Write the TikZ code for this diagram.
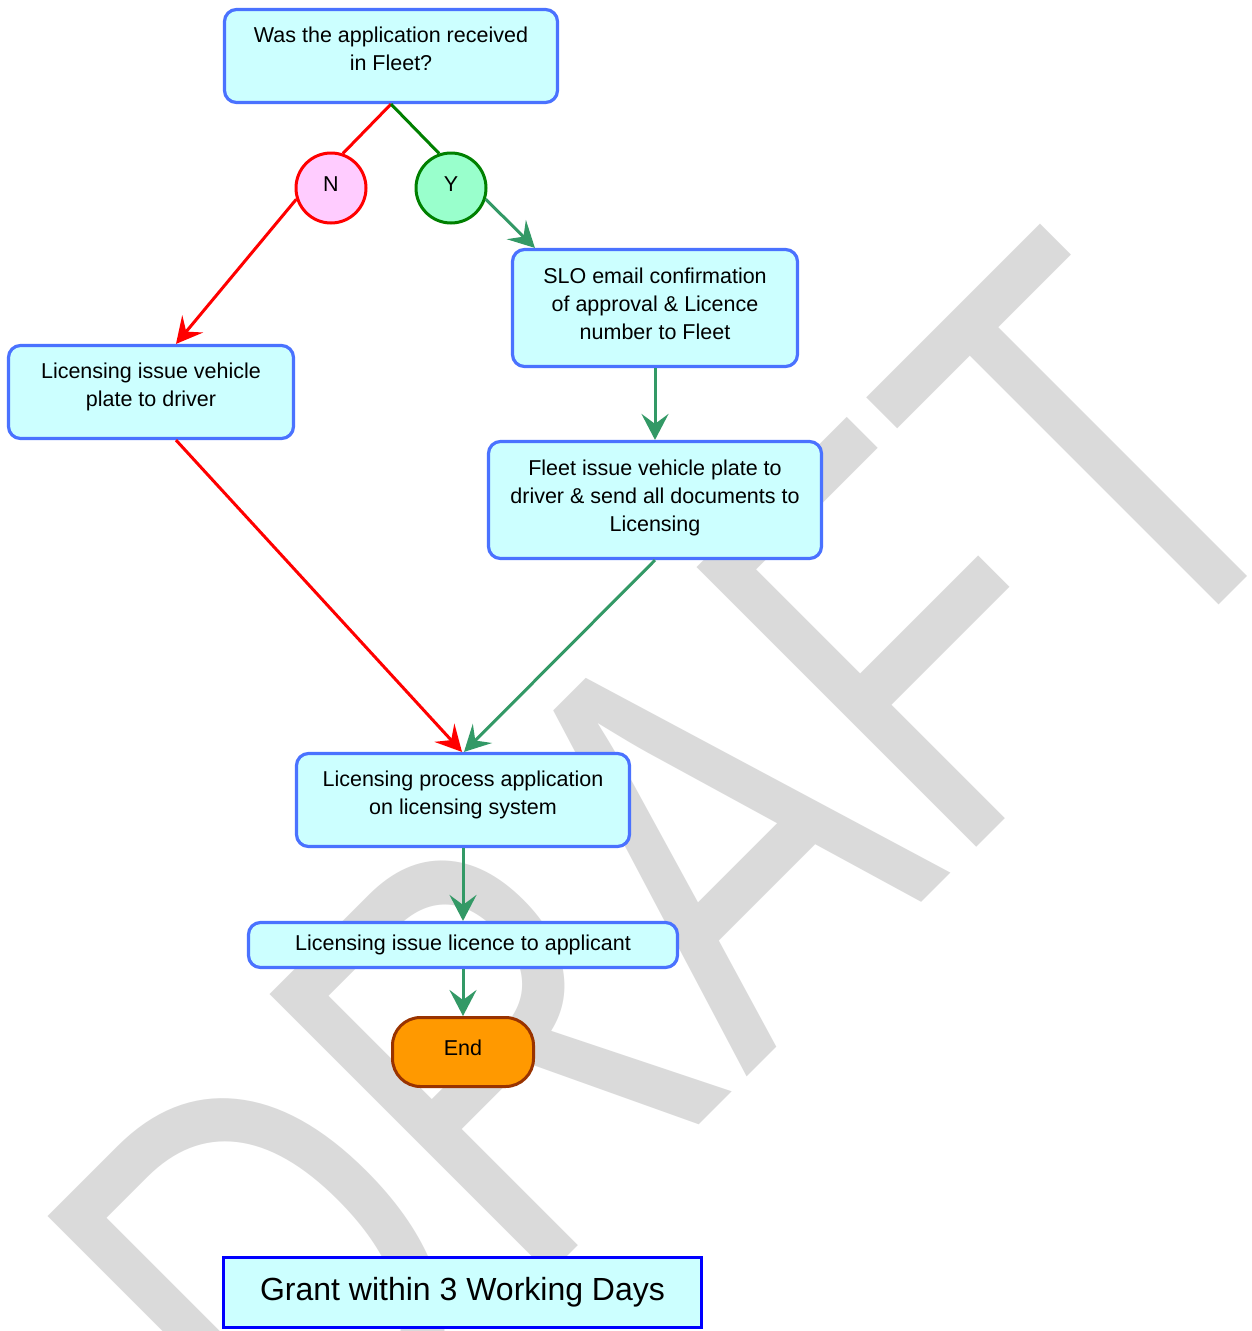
\documentclass[tikz,border=0pt]{standalone}
\usepackage{fontspec}
\setmainfont{Liberation Sans}
\newfontfamily\wmfont[Kerning=Off]{Liberation Sans}
\usepackage{graphicx}
\usetikzlibrary{arrows.meta}
\definecolor{boxfill}{HTML}{CCFFFF}
\definecolor{boxline}{HTML}{4A72FF}
\definecolor{nfill}{HTML}{FFCCFF}
\definecolor{yfill}{HTML}{99FFCC}
\definecolor{dgreen}{HTML}{008000}
\definecolor{sgreen}{HTML}{339966}
\definecolor{endfill}{HTML}{FF9900}
\definecolor{endline}{HTML}{993300}
\definecolor{wmgray}{RGB}{218,218,218}
\newcommand{\padlow}[1]{\rule[-#1]{0pt}{#1}}
\begin{document}
\begin{tikzpicture}[x=1pt,y=1pt,
  procbox/.style={draw=boxline, fill=boxfill, line width=3.2pt, rounded corners=12pt,
    inner sep=0pt, align=center, font=\fontsize{21.5}{28}\selectfont},
  circ/.style={circle, line width=3pt, minimum size=70pt, inner sep=0pt,
    font=\fontsize{21.5}{28}\selectfont},
  endbox/.style={draw=endline, fill=endfill, line width=3pt, rounded corners=28pt,
    inner sep=0pt, minimum width=141pt, minimum height=69pt, font=\fontsize{21.5}{28}\selectfont},
  grantbox/.style={draw=blue, fill=boxfill, line width=3.2pt, inner sep=0pt,
    minimum width=478pt, minimum height=70pt, font=\fontsize{32}{38}\selectfont},
  tip/.style={-{Stealth[length=26pt,width=27pt,inset=10pt]}},
  link/.style={line width=3pt},
  wm/.style={text=wmgray, inner sep=0pt, font=\wmfont\fontsize{575}{575}\selectfont}
]
\useasboundingbox (0,0) rectangle (1252,-1331);
\fill[white] (0,0) rectangle (1252,-1331);
\begin{scope}
  \clip (0,0) rectangle (1252,-1331);
  \node[wm, anchor=base east, rotate=45] (wmark) at (1327,-497) {\scalebox{0.756}[1]{DRAFT}};
\end{scope}

% nodes
\node[procbox, minimum width=333pt, minimum height=93pt] (q) at (391,-56)
  {Was the application received\\in Fleet?\padlow{14pt}};
\node[circ, draw=red, fill=nfill] (n) at (331,-188) {N\padlow{8pt}};
\node[circ, draw=dgreen, fill=yfill] (y) at (451,-188) {Y\padlow{8pt}};
\node[procbox, minimum width=285pt, minimum height=117pt] (slo) at (655,-308)
  {SLO email confirmation\\of approval \& Licence\\number to Fleet\padlow{8pt}};
\node[procbox, minimum width=285pt, minimum height=93pt] (lv) at (151,-392)
  {Licensing issue vehicle\\plate to driver\padlow{14pt}};
\node[procbox, minimum width=333pt, minimum height=117pt] (fl) at (655,-500)
  {Fleet issue vehicle plate to\\driver \& send all documents to\\Licensing\padlow{8pt}};
\node[procbox, minimum width=333pt, minimum height=93pt] (pr) at (463,-800)
  {Licensing process application\\on licensing system\padlow{14pt}};
\node[procbox, minimum width=429pt, minimum height=45pt] (li) at (463,-945)
  {Licensing issue licence to applicant};
\node[endbox] (end) at (463,-1052) {End\padlow{8pt}};
\node[grantbox] (grant) at (462.5,-1292.5) {Grant within 3 Working Days};

% connectors
\draw[link, red] (q.south) -- (n.71);
\draw[link, dgreen] (q.south) -- (y.109);
\draw[link, tip, red] (n.198) -- ([xshift=25pt]lv.north);
\draw[link, tip, sgreen] (y.-18) -- ([xshift=24pt]slo.north west);
\draw[link, tip, sgreen] (slo.south) -- (fl.north);
\draw[link, tip, red] ([xshift=25pt]lv.south) -- ([xshift=-1pt]pr.north);
\draw[link, tip, sgreen] (fl.south) -- ([xshift=1pt]pr.north);
\draw[link, tip, sgreen] (pr.south) -- (li.north);
\draw[link, tip, sgreen] (li.south) -- (end.north);
\end{tikzpicture}
\end{document}
